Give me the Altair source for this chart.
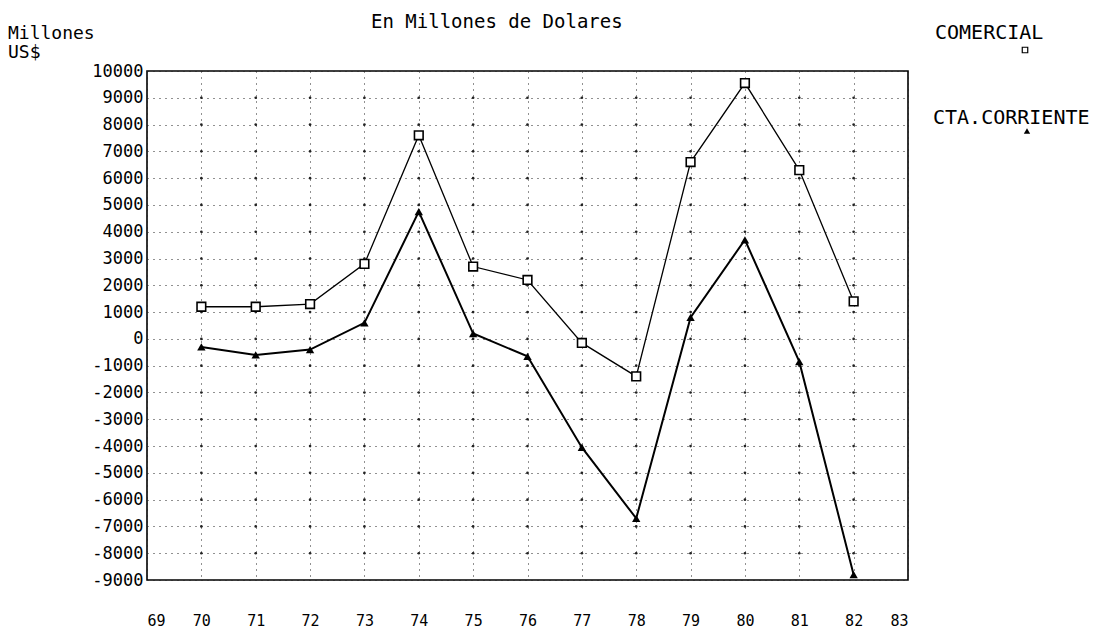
import altair as alt
import pandas as pd

# ---- data ----
years = [70, 71, 72, 73, 74, 75, 76, 77, 78, 79, 80, 81, 82]
comercial = [1200, 1200, 1300, 2800, 7600, 2700, 2200, -150, -1400, 6600, 9550, 6300, 1400]
cta_corriente = [-300, -600, -400, 600, 4750, 200, -650, -4050, -6700, 800, 3700, -850, -8800]
x_ticks = list(range(69, 84))
y_ticks = list(range(-9000, 10001, 1000))

title_text = "En Millones de Dolares"
y_title = ["Millones", "US$"]
legend_names = ["COMERCIAL", "CTA.CORRIENTE"]

W, H = 761, 509
MONO = "DejaVu Sans Mono"

df_com = pd.DataFrame({"year": years, "value": comercial})
df_cta = pd.DataFrame({"year": years, "value": cta_corriente})
df_grid = pd.DataFrame([{"year": x, "value": y} for x in years for y in y_ticks[1:-1]])

xscale = alt.Scale(domain=[69, 83], nice=False, zero=False)
yscale = alt.Scale(domain=[-9000, 10000], nice=False, zero=False)

xaxis = alt.Axis(values=x_ticks, labelExpr="'' + datum.value", title=None,
                 domain=False, ticks=False, labelPadding=33, labelFont=MONO,
                 labelFontSize=15, labelColor="black", labelOverlap=False,
                 labelSeparation=0,
                 grid=True, gridColor="#222", gridDash=[1, 5], gridWidth=1)
yaxis = alt.Axis(values=y_ticks, labelExpr="'' + datum.value", title=None,
                 domain=False, ticks=False, labelPadding=4, labelFont=MONO,
                 labelFontSize=17, labelColor="black", labelOverlap=False,
                 labelSeparation=0, labelBound=False, labelFlush=False,
                 grid=True, gridColor="#222", gridDash=[1, 5], gridWidth=1)

X = alt.X("year:Q", scale=xscale, axis=xaxis)
Y = alt.Y("value:Q", scale=yscale, axis=yaxis)

grid_dots = alt.Chart(df_grid).mark_point(shape="circle", filled=True, color="#222",
                                          size=7, opacity=1).encode(x=X, y=Y)
line_com = alt.Chart(df_com).mark_line(color="black", strokeWidth=1.3).encode(x=X, y=Y)
pts_com = alt.Chart(df_com).mark_point(shape="square", filled=True, fill="white",
                                       stroke="black", strokeWidth=1.6, size=75,
                                       opacity=1).encode(x=X, y=Y)
line_cta = alt.Chart(df_cta).mark_line(color="black", strokeWidth=2).encode(x=X, y=Y)
pts_cta = alt.Chart(df_cta).mark_point(shape="triangle-up", filled=True, color="black",
                                       size=70, opacity=1).encode(x=X, y=Y)

one = alt.Data(values=[{}])

def label(text, x, y, size, align="left"):
    return alt.Chart(one).mark_text(text=text, font=MONO, fontSize=size, color="black",
                                    align=align, baseline="middle").encode(
        x=alt.value(x), y=alt.value(y))

title_mark = label(title_text, 224, -49, 19)
ytitle1 = label(y_title[0], -139, -37, 18)
ytitle2 = label(y_title[1], -139, -18, 18)
leg1 = label(legend_names[0], 788, -38, 20)
leg2 = label(legend_names[1], 786, 47, 20)
leg1_sym = alt.Chart(one).mark_point(shape="square", filled=True, fill="white", stroke="black",
                                     strokeWidth=1.2, size=30, opacity=1).encode(
    x=alt.value(878), y=alt.value(-21))
leg2_sym = alt.Chart(one).mark_point(shape="triangle-up", filled=True, color="black",
                                     size=40, opacity=1).encode(
    x=alt.value(880), y=alt.value(60))

chart = alt.layer(
    grid_dots, line_com, line_cta, pts_com, pts_cta,
    title_mark, ytitle1, ytitle2, leg1, leg2, leg1_sym, leg2_sym
).properties(
    width=W, height=H,
    autosize=alt.AutoSizeParams(type="none"),
    padding={"left": 139, "top": 63, "right": 1093 - 139 - W, "bottom": 628 - 63 - H},
    background="white",
).configure_view(stroke="black", strokeWidth=1.6).configure_axis(labelOverlap=False)

chart.save("out.html", embed_options={"renderer": "svg", "actions": False})
